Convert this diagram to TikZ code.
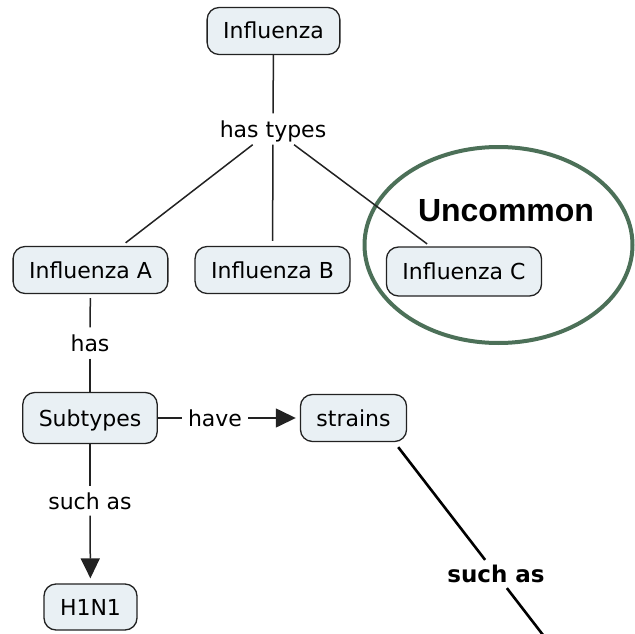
\documentclass[tikz,border=0pt]{standalone}
\usepackage{fontspec}
\setmainfont{DejaVu Sans}
\newfontfamily\arialfont{Liberation Sans}
\usetikzlibrary{arrows.meta,shapes.geometric}
\definecolor{boxfill}{HTML}{E9F0F4}
\definecolor{ringgreen}{HTML}{4C7058}
\definecolor{linegray}{HTML}{222222}
\tikzset{
  concept/.style={draw=linegray, line width=1.3pt, fill=boxfill, rounded corners=12pt,
    font=\fontsize{22}{26}\selectfont, minimum height=47pt, inner xsep=16pt,
    text height=16pt, text depth=0pt},
  linklabel/.style={font=\fontsize{22}{26}\selectfont, inner sep=5pt,
    text height=19pt, text depth=2pt},
  conn/.style={draw=linegray, line width=1.5pt},
  arr/.style={conn, -{Triangle[length=20pt,width=19pt]}},
  boldline/.style={draw=black, line width=2.6pt},
}
\begin{document}
\begin{tikzpicture}[x=1pt,y=-1pt]
\useasboundingbox (0,0) rectangle (635,634);
\clip (0,0) rectangle (635,634);
% annotation ring
\node[draw=ringgreen, line width=4pt, ellipse, minimum width=268pt, minimum height=196pt] (ring) at (498.5,245) {};
\node[font=\arialfont\bfseries\fontsize{32}{36}\selectfont, inner sep=0pt] (uncommon) at (506,211) {Uncommon};
% concepts
\node[concept] (flu) at (273.5,31) {Influenza};
\node[concept] (fluA) at (90.5,270) {Influenza A};
\node[concept] (fluB) at (272.5,270) {Influenza B};
\node[concept, minimum height=49pt] (fluC) at (464,271.5) {Influenza C};
\node[concept, minimum height=51pt] (sub) at (90,418) {Subtypes};
\node[concept] (strains) at (353.5,418) {strains};
\node[concept, minimum height=46pt] (h1n1) at (90.5,607) {H1N1};
% linking phrases
\node[linklabel] (types) at (273,129) {has types};
\node[linklabel] (has) at (90,343) {has};
\node[linklabel, inner xsep=6pt] (have) at (215,418) {have};
\node[linklabel, inner ysep=4pt] (such1) at (90,501) {such as};
\node[font=\bfseries\fontsize{23}{27}\selectfont, inner sep=5pt] (such2) at (496,574) {such as};
\coordinate (offmap) at (560,657);
% connectors
\draw[conn] (flu) -- (types);
\draw[conn, shorten >=5pt] (types) -- (fluA);
\draw[conn, shorten >=5pt] (types) -- (fluB);
\draw[conn, shorten >=4pt] (types) -- (fluC);
\draw[conn, shorten <=4pt] (fluA) -- (has);
\draw[conn] (has) -- (sub);
\draw[conn] (sub) -- (have);
\draw[arr, shorten >=4pt] (have) -- (strains);
\draw[conn] (sub) -- (such1);
\draw[arr, shorten >=5pt] (such1) -- (h1n1);
\draw[boldline] ([xshift=-9pt, yshift=-5pt]strains.south east) -- (such2);
\draw[boldline] (such2) -- (offmap);
\end{tikzpicture}
\end{document}
